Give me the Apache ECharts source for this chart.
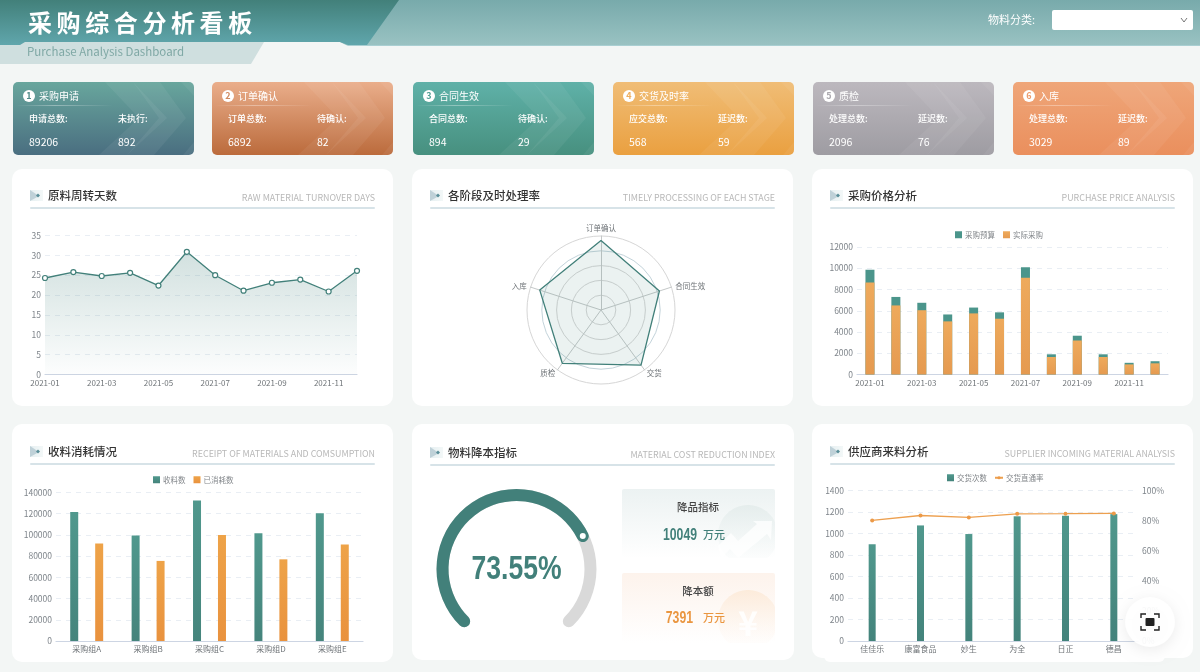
<!DOCTYPE html>
<html lang="zh"><head><meta charset="utf-8"><title>采购综合分析看板</title>
<style>html,body{margin:0;padding:0;background:#f3f6f5}#c{width:1200px;height:672px}</style>
<script src="https://cdn.jsdelivr.net/npm/echarts@6/dist/echarts.min.js"></script></head>
<body><div id="c"></div><script>
const months=['2021-01','2021-02','2021-03','2021-04','2021-05','2021-06','2021-07','2021-08','2021-09','2021-10','2021-11','2021-12'];
const turnoverDays=[24.3,25.8,24.8,25.6,22.4,30.9,25,21.1,23.1,23.9,20.9,26.1];
const stageNames=['订单确认','入库','质检','交货','合同生效'];
const stageRates=[94,87,89,92,83];
const budget=[9850,7300,6750,5650,6300,5850,10100,1900,3650,1900,1100,1250];
const actual=[8650,6500,6050,5000,5750,5250,9100,1650,3200,1650,950,1050];
const groups=['采购组A','采购组B','采购组C','采购组D','采购组E'];
const received=[121500,99500,132500,101500,120500];
const consumed=[92000,75500,100000,77000,91000];
const suppliers=['佳佳乐','康富食品','妙生','为全','日正','德昌'];
const deliveries=[900,1075,995,1160,1165,1180];
const passRate=[80.1,83.4,82.1,84.5,84.6,84.8];
const gaugeValue=73.55;
const kpiTitles=['采购申请','订单确认','合同生效','交货及时率','质检','入库'];
const kpiLabelA=['申请总数:','订单总数:','合同总数:','应交总数:','处理总数:','处理总数:'];
const kpiLabelB=['未执行:','待确认:','待确认:','延迟数:','延迟数:','延迟数:'];
const kpiValueA=['89206','6892','894','568','2096','3029'];
const kpiValueB=['892','82','29','59','76','89'];

const CJK='"Noto Sans CJK SC","Noto Sans",sans-serif';
const NARROW='"Liberation Sans",Roboto,sans-serif';
const TEAL='#42807a',ORANGE='#ea9640',PAGE='#f3f6f5';
const g=[];
const lin=(a,b,x2=0,y2=1)=>({type:'linear',x:0,y:0,x2,y2,colorStops:[{offset:0,color:a},{offset:1,color:b}]});
const rect=(x,y,w,h,fill,r=0,z=-1,extra={})=>g.push({type:'rect',silent:true,z,shape:{x,y,width:w,height:h,r},style:{fill,...extra}});
const poly=(points,fill,z=-1)=>g.push({type:'polygon',silent:true,z,shape:{points},style:{fill}});
const text=(x,y,t,size,fill,o={})=>g.push({type:'text',silent:true,z:o.z??-1,x,y,scaleX:o.scaleX??1,style:{text:t,fill,font:`${o.weight||'normal'} ${size}px ${o.family||CJK}`,textAlign:o.align||'left',textVerticalAlign:'middle',textBaseline:'middle',...(o.style||{})}});

/* page header */
rect(0,0,1200,45,lin('#78aaab','#99c2c2'));
rect(0,45,1200,1,'#a9cfd2');
poly([[20,46],[25,42],[340,42],[348,46]],PAGE);
poly([[0,45],[0,64],[251,64],[264,42],[25,42]],'#cfdfdf');
poly([[0,0],[399,0],[367,45],[348,45],[340,42],[25,42],[20,45],[0,45]],lin('#42807a','#60a6ac'));
[...'采购综合分析看板'].forEach((c,i)=>text(28+i*28.6,23,c,24,'#fff',{weight:'bold',style:{shadowColor:'rgba(170,255,250,.85)',shadowBlur:6}}));
text(27,52,'Purchase Analysis Dashboard',11.5,'#7fa8a5');
text(988,20,'物料分类:',11,'#fff');
rect(1052,10,141,20,'#fff',2);
g.push({type:'polyline',silent:true,z:-1,shape:{points:[[1181,18],[1184,22],[1187,18]]},style:{stroke:'#777',fill:null,lineWidth:1}});

/* KPI cards */
const kpiX=[13,212,413,613,813,1013];
const kpiFill=[['#68a69d','#4a6e80'],['#eaae8b','#bb6b3c'],['#5fb1a8','#47907f'],['#f0bd76','#eaa040'],['#bcb8be','#9e9ca2'],['#efa679','#ea8f5d']];
const kpiNum=['#4f8a88','#d08a5f','#529f95','#edae5e','#acaaaf','#ec9b6c'];
kpiX.forEach((x,i)=>{
  const y=82,w=181,h=73;
  rect(x,y,w,h,lin(kpiFill[i][0],kpiFill[i][1]),5);
  const ch=(a,b,tip)=>poly([[x+a,y],[x+b,y],[x+b+tip,y+36],[x+b-6,y+h],[x+a-6,y+h],[x+a+tip,y+36]],'rgba(255,255,255,.06)');
  ch(92,120,34);ch(120,147,26);
  poly([[x+168,y],[x+178,y],[x+181,y+3],[x+181,y+14]],'rgba(255,255,255,.06)');
  poly([[x+181,y+60],[x+181,y+69],[x+177,y+h],[x+170,y+h]],'rgba(255,255,255,.06)');
  g.push({type:'circle',silent:true,z:-1,shape:{cx:x+16,cy:96,r:6},style:{fill:'#fff'}});
  text(x+16,96,String(i+1),9,kpiNum[i],{align:'center',weight:'bold'});
  text(x+26,96,kpiTitles[i],10,'#fff');
  rect(x+3,105,97,1,{type:'linear',x:0,y:0,x2:1,y2:0,colorStops:[{offset:0,color:'rgba(255,255,255,0)'},{offset:.4,color:'rgba(255,255,255,.35)'},{offset:1,color:'rgba(255,255,255,0)'}]});
  text(x+16,119,kpiLabelA[i],9,'#fff',{weight:'500'});
  text(x+105,119,kpiLabelB[i],9,'#fff',{weight:'500'});
  text(x+16,142,kpiValueA[i],10.5,'#fff');
  text(x+105,142,kpiValueB[i],10.5,'#fff');
});

/* white panels */
const panels=[
 [12,169,381,237,'原料周转天数','RAW MATERIAL TURNOVER DAYS',0],
 [412,169,381,237,'各阶段及时处理率','TIMELY PROCESSING OF EACH STAGE',0],
 [812,169,381,237,'采购价格分析','PURCHASE PRICE ANALYSIS',0],
 [12,424,381,238,'收料消耗情况','RECEIPT OF MATERIALS AND COMSUMPTION',1],
 [412,424,382,236,'物料降本指标','MATERIAL COST REDUCTION INDEX',2],
 [812,424,381,234,'供应商来料分析','SUPPLIER INCOMING MATERIAL ANALYSIS',1]];
panels.forEach(([x,y,w,h,t,e,dy])=>{
  rect(x,y,w,h,'#fff',10);
  const tx=x+18,ty=y+21+dy;
  rect(tx,ty,13,11,lin('#e6eff1','#f3f8f8',1,0));
  poly([[tx,ty],[tx+9,ty+6],[tx,ty+11]],'#bfd1d8');
  poly([[tx+6,ty+5.5],[tx+8,ty+3.5],[tx+10,ty+5.5],[tx+8,ty+7.5]],'#5a8e99');
  text(x+36,y+27+dy,t,11.5,'#333',{weight:'500'});
  text(x+363,y+29+dy,e,8.9,'#b8b8b8',{align:'right'});
  rect(tx,y+38+dy,345,2,'#d7e3e8',1);
});
rect(824,650,341,12,'#fff',6,-2);

/* cost reduction mini cards */
rect(622,489,153,69,lin('#ecf2f2','#ffffff'),2);
rect(622,573,153,70,lin('#fdf3ec','#ffffff'),2);
const blob=(cy,bottom)=>{const pts=[];for(let a=0;a<360;a+=4){const r=a*Math.PI/180;pts.push([Math.min(748+30*Math.cos(r),775),Math.min(cy+30*Math.sin(r),bottom)]);}return pts;};
poly(blob(535,558),lin('rgba(226,235,234,.8)','rgba(240,245,245,.2)'));
poly(blob(620,643),lin('rgba(252,234,216,.9)','rgba(254,246,240,.2)'));
poly([[718,546],[731,533],[738,541],[757,524],[753,521],[772,521],[771,540],[767,534],[738,558],[730,549],[721,558]],'rgba(255,255,255,.75)');
text(748,623,'¥',34,'rgba(255,255,255,.85)',{align:'center',weight:'bold'});
text(698,507,'降品指标',10.5,'#444',{align:'center',weight:'500'});
text(697,535,'10049',17,TEAL,{align:'right',weight:'bold',family:NARROW,scaleX:.72});
text(703,535,'万元',11,TEAL,{weight:'500'});
text(698,591,'降本额',10.5,'#444',{align:'center',weight:'500'});
text(693,618,'7391',17,ORANGE,{align:'right',weight:'bold',family:NARROW,scaleX:.72});
text(703,618,'万元',11,ORANGE,{weight:'500'});
text(516.5,570,gaugeValue+'%',34,TEAL,{align:'center',weight:'bold',family:NARROW,scaleX:.78});

/* floating capture button */
g.push({type:'circle',silent:true,z:100,shape:{cx:1150,cy:622,r:25},style:{fill:'rgba(255,255,255,.94)',shadowColor:'rgba(0,0,0,.08)',shadowBlur:14,shadowOffsetY:3}});
rect(1145.5,618,9,8,'#222',1,101);
[[[1141,618],[1141,614],[1146,614]],[[1154,614],[1159,614],[1159,618]],[[1141,626],[1141,630],[1146,630]],[[1154,630],[1159,630],[1159,626]]].forEach(p=>
  g.push({type:'polyline',silent:true,z:101,shape:{points:p},style:{stroke:'#222',fill:null,lineWidth:1.4}}));

/* chart helpers */
const AX='#7f858b';
const split={show:true,lineStyle:{color:'#e9eef4',type:[5,5],width:1}};
const yAxis=(gridIndex,max,interval,extra={})=>({type:'value',gridIndex,min:0,max,interval,axisLine:{show:false},axisTick:{show:false},splitLine:split,axisLabel:{color:AX,fontSize:8.5,fontFamily:CJK,margin:4,formatter:v=>String(v)},...extra});
const xAxis=(gridIndex,data,extra={})=>({type:'category',gridIndex,data,axisTick:{show:false},axisLine:{lineStyle:{color:'#cdd5e3',width:1.2}},axisLabel:{color:'#6f7478',fontSize:8,fontFamily:CJK,margin:4,...(extra.label||{})},...(extra.axis||{})});
const legend=(data,top,left,w=7,h=7)=>({top,left,padding:0,data,itemWidth:w,itemHeight:h,itemGap:8,textStyle:{color:'#84888c',fontSize:7.5,fontFamily:CJK,padding:[0,0,0,-2]},selectedMode:false});
const barFill=(a,b)=>lin(a,b);

const option={
 animation:false,backgroundColor:PAGE,
 graphic:{elements:g},
 legend:[
  legend([{name:'采购预算',icon:'rect'},{name:'实际采购',icon:'rect'}],231,955),
  legend([{name:'收料数',icon:'rect'},{name:'已消耗数',icon:'rect'}],476,153),
  legend([{name:'交货次数',icon:'rect'}],474,947),
  legend([{name:'交货直通率'}],474,994,8,4)
 ],
 tooltip:{show:false},
 grid:[
  {left:45,top:235.5,width:312,height:139},
  {left:857,top:247,width:311,height:127.5},
  {left:56,top:492.5,width:307,height:148.5},
  {left:848,top:490.5,width:290,height:150.5}
 ],
 xAxis:[
  xAxis(0,months,{axis:{boundaryGap:false},label:{interval:1}}),
  xAxis(1,months,{label:{interval:1}}),
  xAxis(2,groups),
  xAxis(3,suppliers)
 ],
 yAxis:[
  yAxis(0,35,5),
  yAxis(1,12000,2000),
  yAxis(2,140000,20000),
  yAxis(3,1400,200),
  yAxis(3,100,20,{position:'right',splitLine:{show:false},axisLabel:{color:AX,fontSize:8.5,fontFamily:CJK,margin:4,formatter:'{value}%'}})
 ],
 radar:{center:[601,310],radius:74,shape:'circle',splitNumber:5,startAngle:90,nameGap:4,
  axisName:{color:'#6f7478',fontSize:7.5,fontFamily:CJK},
  axisLine:{lineStyle:{color:'#c4c8c8',width:1}},
  splitLine:{lineStyle:{color:['#d6d6d6','#d6d6d6','#d6d6d6','#d6d6d6','#c3d3da'],width:1}},
  splitArea:{show:false},
  indicator:stageNames.map(name=>({name,max:100}))},
 /* hidden polar scale matching the gauge sweep: 100 units span 270 degrees */
 polar:{center:[516.5,569],radius:74},
 angleAxis:{show:false,type:'value',startAngle:225,min:0,max:400/3},
 radiusAxis:{show:false,type:'value',min:0,max:1},
 series:[
  {type:'line',name:'原料周转天数',xAxisIndex:0,yAxisIndex:0,data:turnoverDays,symbol:'circle',symbolSize:5,showSymbol:true,
   lineStyle:{color:TEAL,width:1.3},itemStyle:{color:'#fff',borderColor:TEAL,borderWidth:1.2},
   areaStyle:{color:lin('rgba(66,128,122,.34)','rgba(66,128,122,.02)')}},
  {type:'radar',name:'及时处理率',symbol:'none',data:[{value:stageRates}],
   lineStyle:{color:TEAL,width:1.3},itemStyle:{color:TEAL},areaStyle:{color:'rgba(66,128,122,.15)'}},
  {type:'bar',name:'采购预算',xAxisIndex:1,yAxisIndex:1,data:budget,barWidth:9,barGap:'-100%',itemStyle:{color:'#4b958b'}},
  {type:'bar',name:'实际采购',xAxisIndex:1,yAxisIndex:1,data:actual,barWidth:9,itemStyle:{color:barFill('#eeaa5c','#e59a50')}},
  {type:'bar',name:'收料数',xAxisIndex:2,yAxisIndex:2,data:received,barWidth:8,barGap:'212%',itemStyle:{color:barFill('#50988d','#45847c')}},
  {type:'bar',name:'已消耗数',xAxisIndex:2,yAxisIndex:2,data:consumed,barWidth:8,itemStyle:{color:barFill('#eea348','#e9923e')}},
  {type:'gauge',center:[516.5,569],radius:80,min:0,max:100,startAngle:225,endAngle:-45,
   axisLine:{roundCap:true,lineStyle:{width:12,color:[[1,'#d9d9d9']]}},
   progress:{show:true,width:12,roundCap:true,itemStyle:{color:TEAL}},
   axisTick:{show:false},splitLine:{show:false},axisLabel:{show:false},
   pointer:{show:false},anchor:{show:false},title:{show:false},detail:{show:false},
   data:[{value:gaugeValue}]},
  {type:'scatter',name:'进度点',coordinateSystem:'polar',polarIndex:0,z:5,data:[[1,gaugeValue]],symbol:'circle',symbolSize:8,
   itemStyle:{color:'#fff',borderColor:TEAL,borderWidth:2,opacity:1}},
  {type:'bar',name:'交货次数',xAxisIndex:3,yAxisIndex:3,data:deliveries,barWidth:7,itemStyle:{color:barFill('#50988d','#43837b')}},
  {type:'line',name:'交货直通率',xAxisIndex:3,yAxisIndex:4,data:passRate,symbol:'circle',symbolSize:4,lineStyle:{color:'#eda050',width:1.3},itemStyle:{color:'#ec9a48'}}
 ]
};
echarts.init(document.getElementById('c')).setOption(option);
</script></body></html>
